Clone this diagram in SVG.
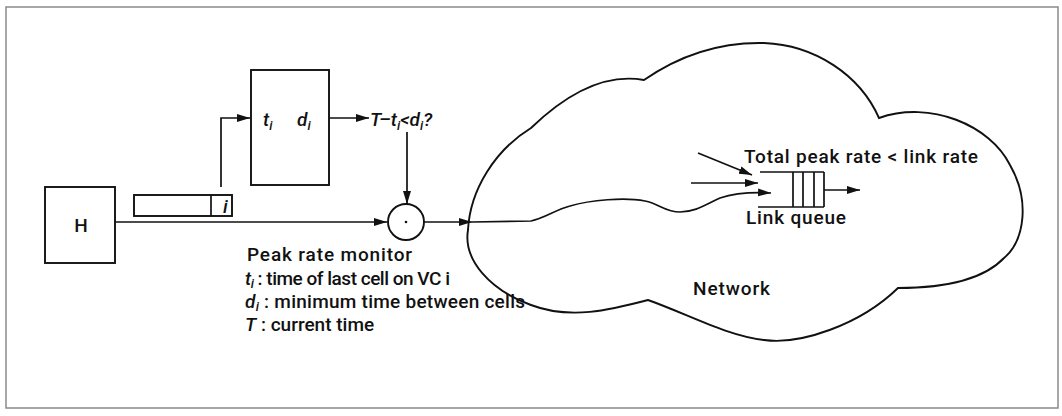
<svg xmlns="http://www.w3.org/2000/svg" width="1062" height="416" viewBox="0 0 1062 416">
<style>
.ln{fill:none;stroke:#111;stroke-width:1.7}
.bx{fill:#fff;stroke:#111;stroke-width:1.9}
.tx{font-family:Roboto,"Liberation Sans",sans-serif;font-size:19px;font-weight:500;fill:#111}
.it{font-style:italic}
.sb{font-size:13px}
</style>
<defs>
<marker id="ah" markerUnits="userSpaceOnUse" markerWidth="14" markerHeight="9" refX="13" refY="4" orient="auto">
<path d="M0,0 L13,4 L0,8 z" fill="#111"/>
</marker>
</defs>
<rect x="0" y="0" width="1062" height="416" fill="#fff"/>
<rect x="6" y="7" width="1052" height="401" fill="none" stroke="#8a8a8a" stroke-width="1.5"/>

<g id="network">
<path class="bx" d="M644,80 C680,55 720,42 764,43 C815,45 860,75 879,118 C930,100 990,125 1010,165 C1030,200 1025,240 1004,258 C985,278 950,288 898,288 C860,325 800,345 764,340 C725,335 690,315 648,300 C610,310 570,320 531,305 C490,290 463,260 468,230 C470,190 495,150 531,128 C560,100 600,72 644,80 Z"/>
<text class="tx" x="693" y="295" textLength="77">Network</text>
</g>

<g id="host">
<rect class="bx" x="45" y="187" width="70" height="76"/>
<text class="tx" x="81" y="232" text-anchor="middle" font-size="17">H</text>
</g>

<g id="cell">
<rect class="bx" x="134" y="195" width="98" height="21"/>
<line class="ln" x1="211" y1="195" x2="211" y2="216"/>
<text class="tx it" x="223" y="213" font-size="18">i</text>
</g>

<g id="table">
<rect class="bx" x="251" y="70" width="78" height="115"/>
<text class="tx it" x="263" y="126" font-size="20">t<tspan class="sb" dy="4">i</tspan><tspan dy="-4" x="297">d</tspan><tspan class="sb" dy="4">i</tspan></text>
</g>

<g id="condition">
<text class="tx it" x="370" y="126" font-size="20">T–t<tspan class="sb" dy="4">i</tspan><tspan dy="-4">&lt;d</tspan><tspan class="sb" dy="4">i</tspan><tspan dy="-4">?</tspan></text>
</g>

<g id="monitor">
<circle class="bx" cx="406" cy="222" r="18"/>
<circle cx="406" cy="222" r="1.3" fill="#111"/>
<text class="tx" x="247" y="261" textLength="165">Peak rate monitor</text>
</g>

<g id="legend">
<text class="tx" x="245" y="285" textLength="205"><tspan class="it">t</tspan><tspan class="sb it" dy="3">i</tspan><tspan dy="-3">  : time of last cell on VC i</tspan></text>
<text class="tx" x="245" y="308" textLength="280"><tspan class="it">d</tspan><tspan class="sb it" dy="3">i</tspan><tspan dy="-3"> : minimum time between cells</tspan></text>
<text class="tx" x="245" y="331"><tspan class="it">T</tspan><tspan>  : current time</tspan></text>
</g>

<g id="linkqueue">
<path class="ln" d="M760,172 H824 M758,207 H824 M793,172 V207 M803,172 V207 M814,172 V207 M824,172 V207" stroke-width="1.9"/>
<text class="tx" x="744" y="163" textLength="234">Total peak rate &lt; link rate</text>
<text class="tx" x="746" y="224" textLength="100">Link queue</text>
</g>

<g id="connectors">
<line class="ln" x1="115" y1="222" x2="387" y2="222" marker-end="url(#ah)"/>
<path class="ln" d="M221,187 V118 H250" marker-end="url(#ah)"/>
<line class="ln" x1="329" y1="118" x2="369" y2="118" marker-end="url(#ah)"/>
<line class="ln" x1="407" y1="132" x2="407" y2="204" marker-end="url(#ah)"/>
<line class="ln" x1="424" y1="222" x2="472" y2="222" marker-end="url(#ah)"/>
<path class="ln" d="M472,222 L531,221 C545,218 555,210 570,206 C590,200 625,197 645,201 C660,204 665,212 680,212 C695,212 705,205 720,198 C735,193 750,192 771,193" marker-end="url(#ah)"/>
<line class="ln" x1="698" y1="153" x2="752" y2="175" marker-end="url(#ah)"/>
<line class="ln" x1="691" y1="183" x2="758" y2="183" marker-end="url(#ah)"/>
<line class="ln" x1="824" y1="190" x2="860" y2="190" marker-end="url(#ah)"/>
</g>
</svg>
